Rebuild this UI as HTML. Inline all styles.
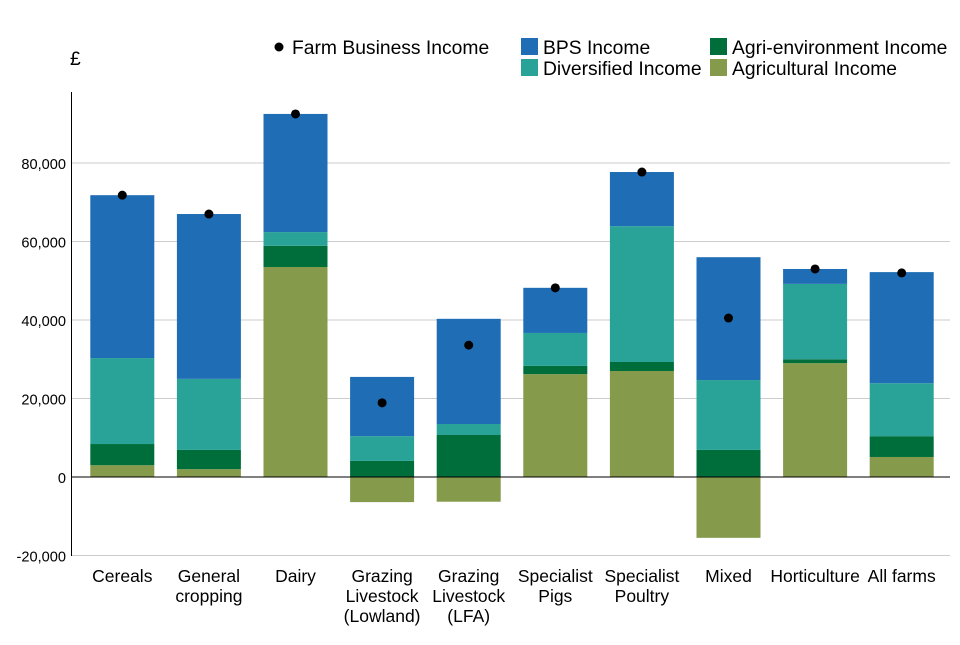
<!DOCTYPE html>
<html><head><meta charset="utf-8"><style>
body{margin:0;background:#fff;font-family:"Liberation Sans",Arial,sans-serif;}
svg text{font-family:"Liberation Sans",Arial,sans-serif;fill:#000;}
.lg{font-size:19.3px;}
.yt{font-size:14.6px;}
.xt{font-size:17.5px;}
</style></head><body>
<svg id="chart" width="960" height="640">
<text class="lg" x="70" y="65">£</text>
<g id="legend">
<circle cx="279" cy="47" r="4.5" fill="#000"/>
<text class="lg" x="292" y="54">Farm Business Income</text>
<rect x="521" y="38" width="17" height="17" fill="#1f6db5"/>
<text class="lg" x="543" y="54">BPS Income</text>
<rect x="710" y="38" width="17" height="17" fill="#006e3b"/>
<text class="lg" x="732" y="54">Agri-environment Income</text>
<rect x="521" y="59" width="17" height="17" fill="#29a397"/>
<text class="lg" x="543" y="75">Diversified Income</text>
<rect x="710" y="59" width="17" height="17" fill="#859a4a"/>
<text class="lg" x="732" y="75">Agricultural Income</text>
</g>
<g id="grid"></g><g id="bars"></g><g id="axes"></g><g id="dots"></g>
</svg>
<script>
const categories=[["Cereals"],["General","cropping"],["Dairy"],["Grazing","Livestock","(Lowland)"],["Grazing","Livestock","(LFA)"],["Specialist","Pigs"],["Specialist","Poultry"],["Mixed"],["Horticulture"],["All farms"]];
const agricultural=[3000,2000,53500,-6400,-6300,26200,27000,-15500,29000,5100];
const agriEnv=[5400,4900,5400,4100,10700,2100,2300,6900,1000,5300];
const diversified=[21900,18100,3500,6300,2800,8400,34600,17800,19200,13500];
const bps=[41500,42000,30100,15100,26800,11500,13800,31300,3800,28300];
const fbi=[71800,67000,92500,18900,33600,48200,77700,40500,53000,52000];
const yTicks=[-20000,0,20000,40000,60000,80000];
const yTickLabels=["-20,000","0","20,000","40,000","60,000","80,000"];
const NS="http://www.w3.org/2000/svg";
const y=v=>477-v*314/80000;
const x0=79,step=86.6,bw=64;
const xc=i=>x0+step*(i+0.5);
function mk(t,a,p){const e=document.createElementNS(NS,t);for(const k in a)e.setAttribute(k,a[k]);document.getElementById(p).appendChild(e);return e;}
yTicks.forEach((v,i)=>{
 if(v!==0){const g=mk('line',{x1:72,x2:950,y1:y(v),y2:y(v),stroke:'#cccccc','stroke-width':1},'grid');
 
 }
 const t=mk('text',{x:66,y:y(v)+6,'text-anchor':'end','class':'yt'},'axes');t.textContent=yTickLabels[i];
 
 
});
const series=[[agricultural,'#859a4a','agricultural'],[agriEnv,'#006e3b','agri-env'],[diversified,'#29a397','diversified'],[bps,'#1f6db5','bps']];
categories.forEach((c,i)=>{
 let pos=0;
 series.forEach(([arr,col,nm])=>{
  const v=arr[i];let a,b;
  if(v<0){a=0;b=v;}else{a=pos;b=pos+v;pos=b;}
  const r=mk('rect',{x:xc(i)-bw/2,y:y(Math.max(a,b)),width:bw,height:Math.abs(y(a)-y(b)),fill:col},'bars');
  
  
 });
 const d=mk('circle',{cx:xc(i),cy:y(fbi[i]),r:4.5,fill:'#000'},'dots');
 
 
 c.forEach((ln,j)=>{const t=mk('text',{x:xc(i),y:582+j*20,'text-anchor':'middle','class':'xt'},'axes');t.textContent=ln;
 
 });
});
const ax=mk('line',{x1:71.5,x2:71.5,y1:92,y2:556,stroke:'#000','stroke-width':1},'axes');


const z=mk('line',{x1:72,x2:950,y1:y(0),y2:y(0),stroke:'#000','stroke-width':1},'axes');


</script>
</body></html>
